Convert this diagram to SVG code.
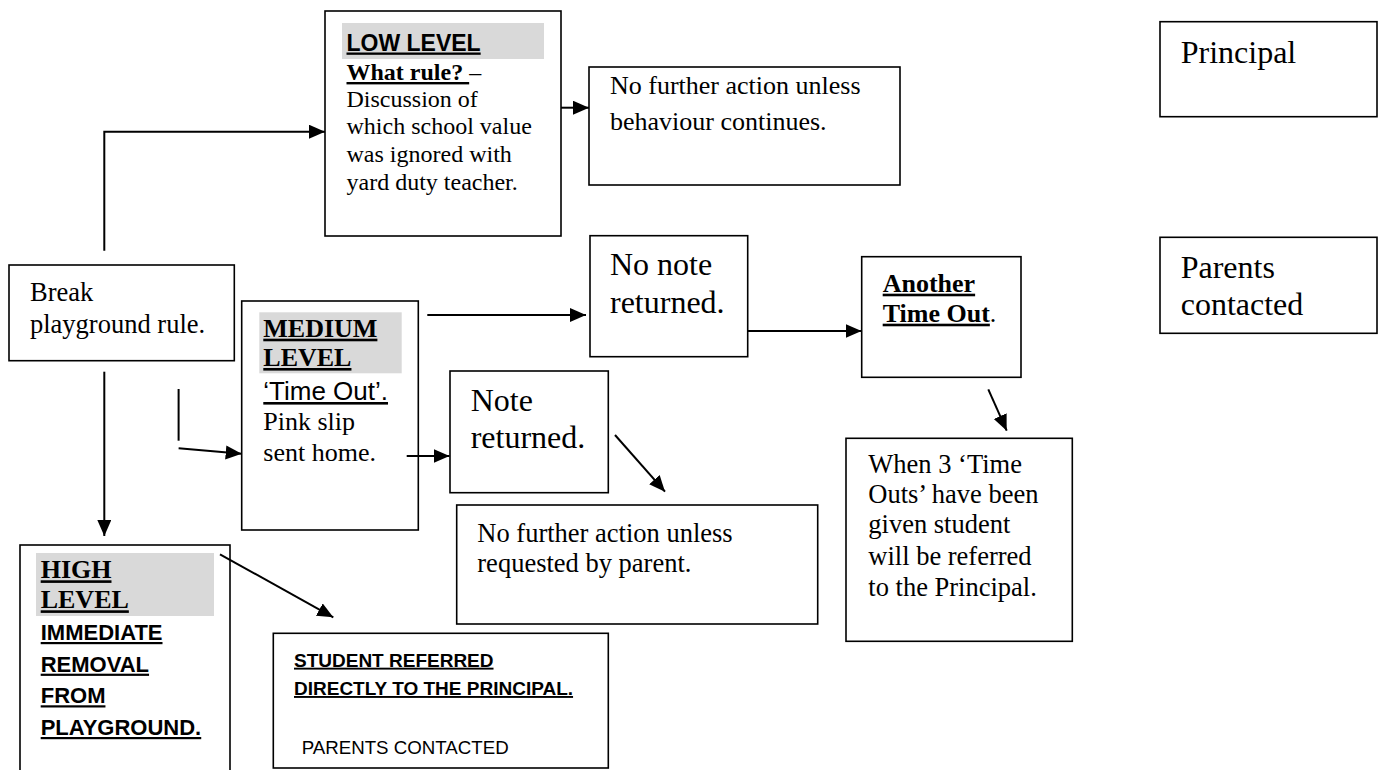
<svg xmlns="http://www.w3.org/2000/svg" width="1384" height="770" viewBox="0 0 1384 770">
<defs>
<marker id="ah" markerUnits="userSpaceOnUse" markerWidth="17" markerHeight="15" refX="16" refY="7" orient="auto">
<path d="M0,0 L16,7 L0,14 Z" fill="#000"/>
</marker>
<style>
.box{fill:#fff;stroke:#000;stroke-width:1.6}
.hl{fill:#d9d9d9}
.serif{font-family:"Liberation Serif","Times New Roman",serif;fill:#000}
.sans{font-family:"Liberation Sans",Arial,sans-serif;fill:#000}
.b{font-weight:bold}
.u{text-decoration:underline}
.conn{fill:none;stroke:#000;stroke-width:2;marker-end:url(#ah)}
.plain{fill:none;stroke:#000;stroke-width:2}
</style>
</defs>
<rect width="1384" height="770" fill="#fff"/>

<g id="low-level">
<rect class="box" x="325" y="11" width="236" height="225"/>
<rect class="hl" x="342" y="23" width="202" height="36"/>
<text class="sans b u" x="346.5" y="50.5" font-size="23">LOW LEVEL</text>
<text class="serif" x="346.5" y="80" font-size="24"><tspan class="b u">What rule? </tspan>–</text>
<text class="serif" x="346.5" y="106.7" font-size="24">Discussion of</text>
<text class="serif" x="346.5" y="134.3" font-size="24">which school value</text>
<text class="serif" x="346.5" y="162.2" font-size="24">was ignored with</text>
<text class="serif" x="346.5" y="190" font-size="24">yard duty teacher.</text>
</g>

<g id="no-further-continues">
<rect class="box" x="589" y="67" width="311" height="118"/>
<text class="serif" x="610" y="94.3" font-size="26">No further action unless</text>
<text class="serif" x="610" y="130" font-size="26">behaviour continues.</text>
</g>

<g id="principal">
<rect class="box" x="1160" y="21.7" width="217" height="95"/>
<text class="serif" x="1180.7" y="62.7" font-size="32">Principal</text>
</g>

<g id="parents-contacted">
<rect class="box" x="1160" y="237.3" width="217" height="96"/>
<text class="serif" x="1180.7" y="278.3" font-size="32">Parents</text>
<text class="serif" x="1180.7" y="315" font-size="32">contacted</text>
</g>

<g id="break-rule">
<rect class="box" x="9" y="265" width="225.3" height="95.7"/>
<text class="serif" x="30" y="301" font-size="26.5">Break</text>
<text class="serif" x="30" y="332.7" font-size="26.5">playground rule.</text>
</g>

<g id="medium-level">
<rect class="box" x="241.7" y="301" width="176.6" height="229"/>
<rect class="hl" x="259.3" y="312.3" width="142.4" height="61"/>
<text class="serif b u" x="263.3" y="336.7" font-size="26">MEDIUM</text>
<text class="serif b u" x="263.3" y="366" font-size="26">LEVEL</text>
<text class="sans u" x="263.3" y="400" font-size="26">‘Time Out’.</text>
<text class="serif" x="263.3" y="430" font-size="26">Pink slip</text>
<text class="serif" x="263.3" y="460.7" font-size="26">sent home.</text>
</g>

<g id="no-note-returned">
<rect class="box" x="590" y="235.7" width="157.7" height="121"/>
<text class="serif" x="610" y="275" font-size="32">No note</text>
<text class="serif" x="610" y="312.7" font-size="32">returned.</text>
</g>

<g id="another-time-out">
<rect class="box" x="861.7" y="256.7" width="159.3" height="120.6"/>
<text class="serif b u" x="882.7" y="291.7" font-size="26">Another</text>
<text class="serif" x="882.7" y="321.7" font-size="26"><tspan class="b u">Time Out</tspan>.</text>
</g>

<g id="note-returned">
<rect class="box" x="450" y="371" width="158.3" height="121.7"/>
<text class="serif" x="470.7" y="410.7" font-size="32">Note</text>
<text class="serif" x="470.7" y="448.3" font-size="32">returned.</text>
</g>

<g id="three-time-outs">
<rect class="box" x="846" y="438.3" width="226.3" height="203"/>
<text class="serif" x="868.3" y="472.7" font-size="26.5">When 3 ‘Time</text>
<text class="serif" x="868.3" y="503.3" font-size="26.5">Outs’ have been</text>
<text class="serif" x="868.3" y="533.3" font-size="26.5">given student</text>
<text class="serif" x="868.3" y="565" font-size="26.5">will be referred</text>
<text class="serif" x="868.3" y="596" font-size="26.5">to the Principal.</text>
</g>

<g id="no-further-parent">
<rect class="box" x="456.7" y="505" width="361" height="119"/>
<text class="serif" x="477.3" y="541.7" font-size="26.5">No further action unless</text>
<text class="serif" x="477.3" y="571.7" font-size="26.5">requested by parent.</text>
</g>

<g id="high-level">
<rect class="box" x="20" y="545" width="210" height="240"/>
<rect class="hl" x="36" y="553" width="178" height="63"/>
<text class="serif b u" x="40.7" y="578.3" font-size="26">HIGH</text>
<text class="serif b u" x="40.7" y="608.3" font-size="26">LEVEL</text>
<text class="sans b u" x="40.7" y="640" font-size="22">IMMEDIATE</text>
<text class="sans b u" x="40.7" y="671.7" font-size="22">REMOVAL</text>
<text class="sans b u" x="40.7" y="703.3" font-size="22">FROM</text>
<text class="sans b u" x="40.7" y="735" font-size="22">PLAYGROUND.</text>
</g>

<g id="student-referred">
<rect class="box" x="273.3" y="633.3" width="335" height="134.7"/>
<text class="sans b u" x="294" y="666.7" font-size="19">STUDENT REFERRED</text>
<text class="sans b u" x="294" y="695" font-size="19">DIRECTLY TO THE PRINCIPAL.</text>
<text class="sans" x="301.7" y="754" font-size="18.7">PARENTS CONTACTED</text>
</g>

<g id="connectors">
<polyline class="conn" points="104.3,250.7 104.3,131.7 325,131.7"/>
<line class="conn" x1="561" y1="107.7" x2="589" y2="107.7"/>
<line class="conn" x1="104.3" y1="371.7" x2="104.3" y2="536"/>
<line class="plain" x1="178.6" y1="389" x2="178.6" y2="440.7"/>
<line class="conn" x1="178.6" y1="448.3" x2="241.7" y2="453.8"/>
<line class="conn" x1="427.3" y1="315" x2="586" y2="315"/>
<line class="conn" x1="406.7" y1="456" x2="449.5" y2="456"/>
<line class="conn" x1="747.7" y1="331" x2="861.5" y2="331"/>
<line class="conn" x1="615" y1="435" x2="665" y2="491.7"/>
<line class="conn" x1="988.3" y1="389.3" x2="1006.7" y2="430.7"/>
<line class="conn" x1="220" y1="554.3" x2="333.3" y2="617.3"/>
</g>
</svg>
